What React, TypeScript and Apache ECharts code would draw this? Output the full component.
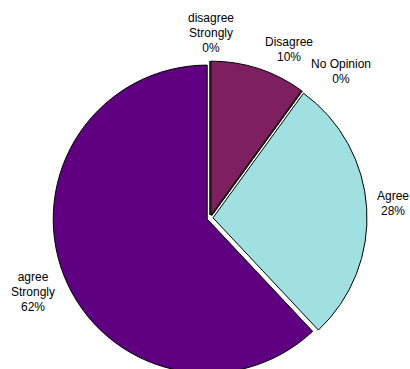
import React, { useEffect, useRef } from "react";
import * as echarts from "echarts";

const categories = ["disagree\nStrongly", "Disagree", "No Opinion", "Agree", "agree\nStrongly"];
const values = [0, 10, 0, 28, 62];
const colors = ["#5E0080", "#7E2060", "#A0E0E0", "#A0E0E0", "#5E0080"];
// label anchor positions (text block centers), in px
const labelAnchors: [number, number][] = [
  [211, 33],
  [289, 49],
  [341, 71],
  [393, 203],
  [33, 292],
];

export default function App() {
  const ref = useRef<HTMLDivElement>(null);
  useEffect(() => {
    if (!ref.current) return;
    const chart = echarts.init(ref.current, null, { renderer: "svg" });
    chart.setOption({
      animation: false,
      backgroundColor: "#ffffff",
      graphic: categories.map((c, i) => ({
        type: "text",
        x: labelAnchors[i][0],
        y: labelAnchors[i][1],
        silent: true,
        style: {
          text: `${c}\n${values[i]}%`,
          align: "center",
          verticalAlign: "middle",
          fontFamily: "Liberation Sans, Arial, sans-serif",
          fontSize: 12,
          lineHeight: 15,
          fill: "#000000",
        },
      })),
      series: [
        {
          type: "pie",
          center: [210, 218],
          radius: 154,
          startAngle: 90,
          clockwise: true,
          stillShowZeroSum: true,
          selectedMode: "multiple",
          selectedOffset: 3,
          avoidLabelOverlap: false,
          itemStyle: { borderColor: "#000000", borderWidth: 1 },
          label: { show: false },
          labelLine: { show: false },
          emphasis: { disabled: true },
          select: { itemStyle: { borderColor: "#000000", borderWidth: 1 } },
          data: categories.map((c, i) => ({
            name: c,
            value: values[i],
            selected: true,
            itemStyle: { color: colors[i] },
            select: { itemStyle: { color: colors[i] } },
          })),
        },
      ],
    });
    return () => chart.dispose();
  }, []);
  return (
    <div
      ref={ref}
      style={{ position: "fixed", left: 0, top: 0, width: 410, height: 369 }}
    />
  );
}
